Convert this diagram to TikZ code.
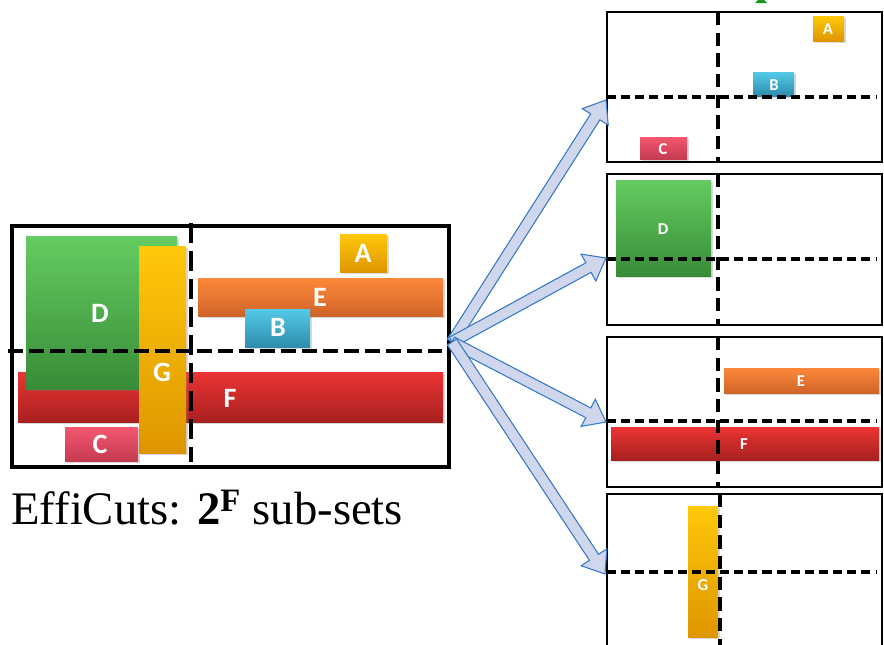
\documentclass[tikz,border=0pt]{standalone}
\usepackage{fontspec}
\setmainfont{Liberation Serif}
\newfontfamily\labelfont{Carlito}
\usetikzlibrary{calc,shadows}

\definecolor{greenT}{RGB}{100,204,96}
\definecolor{greenB}{RGB}{56,140,56}
\definecolor{amberT}{RGB}{255,200,10}
\definecolor{amberB}{RGB}{222,150,0}
\definecolor{redT}{RGB}{236,52,52}
\definecolor{redB}{RGB}{168,32,32}
\definecolor{pinkT}{RGB}{244,88,112}
\definecolor{pinkB}{RGB}{196,58,80}
\definecolor{orangeT}{RGB}{252,136,58}
\definecolor{orangeB}{RGB}{208,100,40}
\definecolor{blueT}{RGB}{84,202,232}
\definecolor{blueB}{RGB}{46,140,172}
\definecolor{flowline}{RGB}{52,122,200}
\definecolor{flowfill}{RGB}{208,214,236}
\definecolor{headgreen}{RGB}{20,150,30}

% block arrow from #1 to #2; #3 names the base of its head
\newcommand\blockarrow[3]{%
  \coordinate (#3) at ($(#2)!15pt!(#1)$);
  \draw[flow] ($(#1)!4.1pt!90:(#2)$) -- ($(#3)!4.1pt!90:(#2)$)
    -- ($(#3)!11.5pt!90:(#2)$) -- (#2) -- ($(#3)!11.5pt!-90:(#2)$)
    -- ($(#3)!4.1pt!-90:(#2)$) -- ($(#1)!4.1pt!-90:(#2)$) -- cycle;}

\begin{document}
\begin{tikzpicture}[x=0.75pt,y=-0.75pt,
  frame/.style={draw=black,line width=2.6pt},
  subframe/.style={draw=black,line width=1.9pt},
  hcut/.style={line width=3pt,dash pattern=on 11.25pt off 4.5pt},
  vcut/.style={line width=3.2pt,dash pattern=on 15pt off 6pt},
  subhcut/.style={line width=2.3pt,dash pattern=on 6.8pt off 3.8pt},
  subvcut/.style={line width=2.7pt,dash pattern=on 10pt off 5.5pt},
  rulebox/.style 2 args={top color=#1,bottom color=#2,draw=none,
    drop shadow={opacity=0.3,shadow xshift=1.2pt,shadow yshift=-1.2pt}},
  biglabel/.style={font=\labelfont\bfseries\fontsize{21}{21}\selectfont,text=white,inner sep=0pt},
  smalllabel/.style={font=\labelfont\bfseries\fontsize{12.5}{12.5}\selectfont,text=white,inner sep=0pt},
  flow/.style={draw=flowline,fill=flowfill,line width=0.8pt,line join=miter}]
\useasboundingbox (0,0) rectangle (884,644);

% ---------- full rule set ----------
\path[rulebox={redT}{redB}]    (18,372) rectangle (443,422);
\path[rulebox={greenT}{greenB}] (26,236) rectangle (177,389);
\path[rulebox={amberT}{amberB}] (139,246) rectangle (186,453);
\path[rulebox={pinkT}{pinkB}]  (65,427) rectangle (138,461);
\path[rulebox={orangeT}{orangeB}] (198,278) rectangle (443,316);
\path[rulebox={blueT}{blueB}]  (245,309) rectangle (310,347);
\path[rulebox={amberT}{amberB}] (340,234) rectangle (387,272);

\draw[hcut] (8,351) -- (442,351);
\draw[vcut] (191,223) -- (191,462);
\draw[frame] (12,226) rectangle (449,467);

\node[biglabel] (lD) at (100,313) {D};
\node[biglabel] (lG) at (162,372) {G};
\node[biglabel] (lF) at (230,398) {F};
\node[biglabel] (lC) at (100,444) {C};
\node[biglabel] (lE) at (320,297) {E};
\node[biglabel] (lB) at (278,327) {B};
\node[biglabel] (lA) at (363,253) {A};

\node[anchor=base west,inner sep=0pt,font=\fontsize{35}{35}\selectfont] (caption) at (11,524)
  {EffiCuts: \textbf{2\textsuperscript{F}} sub-sets};

% ---------- sub-set 1: A, B, C ----------
\path[rulebox={amberT}{amberB}] (813,16) rectangle (844,41);
\path[rulebox={blueT}{blueB}]  (753,72) rectangle (794,96);
\path[rulebox={pinkT}{pinkB}]  (640,137) rectangle (687,159);
\draw[subvcut] (718,12) -- (718,162);
\draw[subhcut] (607,97) -- (877,97);
\draw[subframe] (607,12) rectangle (882,162);
\node[smalllabel] (sA) at (828,29) {A};
\node[smalllabel] (sB) at (774,85) {B};
\node[smalllabel] (sC) at (663,149) {C};

% ---------- sub-set 2: D ----------
\path[rulebox={greenT}{greenB}] (616,180) rectangle (711,276);
\draw[subvcut] (718,174) -- (718,325);
\draw[subhcut] (607,259) -- (877,259);
\draw[subframe] (607,174) rectangle (882,325);
\node[smalllabel] (sD) at (663,229) {D};

% ---------- sub-set 3: E, F ----------
\path[rulebox={orangeT}{orangeB}] (724,368) rectangle (879,393);
\path[rulebox={redT}{redB}]    (611,427) rectangle (879,460);
\draw[subvcut] (718,337) -- (718,487);
\draw[subhcut] (607,421) -- (877,421);
\draw[subframe] (607,337) rectangle (882,487);
\node[smalllabel] (sE) at (801,381) {E};
\node[smalllabel] (sF) at (744,444) {F};

% ---------- sub-set 4: G ----------
\path[rulebox={amberT}{amberB}] (688,506) rectangle (718,637);
\draw[subvcut] (720,494) -- (720,646);
\draw[subhcut] (607,572) -- (877,572);
\draw[subframe] (607,650) -- (607,494) -- (882,494) -- (882,650);
\node[smalllabel] (sG) at (703,585) {G};

% heading fragment above the sub-sets
\fill[headgreen] (755,3) -- (767,3) -- (764,0) -- (758,0) -- cycle;

% ---------- splitting arrows ----------
\coordinate (src) at (452,342);
\coordinate (t1) at (606,100);
\coordinate (t2) at (606,258);
\coordinate (t3) at (606,422);
\coordinate (t4) at (605,574);
\blockarrow{src}{t1}{h1}
\blockarrow{src}{t2}{h2}
\blockarrow{src}{t3}{h3}
\blockarrow{src}{t4}{h4}
\end{tikzpicture}
\end{document}
